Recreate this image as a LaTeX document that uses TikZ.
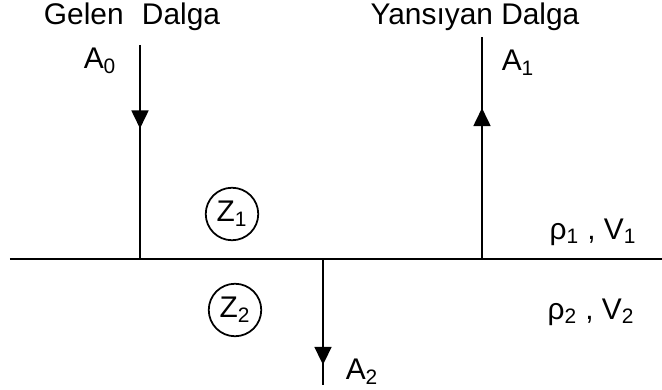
\documentclass[tikz,border=0pt]{standalone}
\usepackage{fontspec}
\setmainfont{Liberation Sans}
\usetikzlibrary{arrows.meta,decorations.markings}

\begin{document}
\begin{tikzpicture}[line width=1pt,
  wave/.style={postaction={decorate},decoration={markings,
    mark=at position #1 with {\arrow{Triangle[length=3.6mm,width=3.4mm]}}}},
  medium/.style={draw,circle,minimum size=1.05cm,inner sep=0pt},
  lbl/.style={font=\fontsize{17}{19}\selectfont}]
\useasboundingbox (0,0) rectangle (13.24,-7.8);
% interface
\coordinate (L) at (0.2,-5.18);
\coordinate (R) at (13.24,-5.18);
\draw (L) -- (R);
% waves
\coordinate (inTop) at (2.8,-0.9);
\coordinate (inFoot) at (2.8,-5.18);
\coordinate (reFoot) at (9.64,-5.18);
\coordinate (reTop) at (9.64,-0.74);
\coordinate (trTop) at (6.46,-5.18);
\coordinate (trEnd) at (6.46,-7.7);
\draw[wave=0.39] (inTop) -- (inFoot);
\draw[wave=0.68] (reFoot) -- (reTop);
\draw[wave=0.84] (trTop) -- (trEnd);
% labels
\node[lbl] (gelen) at (2.64,-0.34) {Gelen\,\, Dalga};
\node[lbl] (A0) at (2.0,-1.22) {A\textsubscript{0}};
\node[lbl] (yans) at (9.5,-0.34) {Yansıyan Dalga};
\node[lbl] (A1) at (10.36,-1.26) {A\textsubscript{1}};
\node[lbl] (A2) at (7.24,-7.44) {A\textsubscript{2}};
\node[lbl,medium] (Z1) at (4.64,-4.28) {Z\textsubscript{1}};
\node[lbl,medium] (Z2) at (4.7,-6.2) {Z\textsubscript{2}};
\node[lbl] (m1) at (11.86,-4.64) {ρ\textsubscript{1} , V\textsubscript{1}};
\node[lbl] (m2) at (11.82,-6.24) {ρ\textsubscript{2} , V\textsubscript{2}};
\end{tikzpicture}
\end{document}
